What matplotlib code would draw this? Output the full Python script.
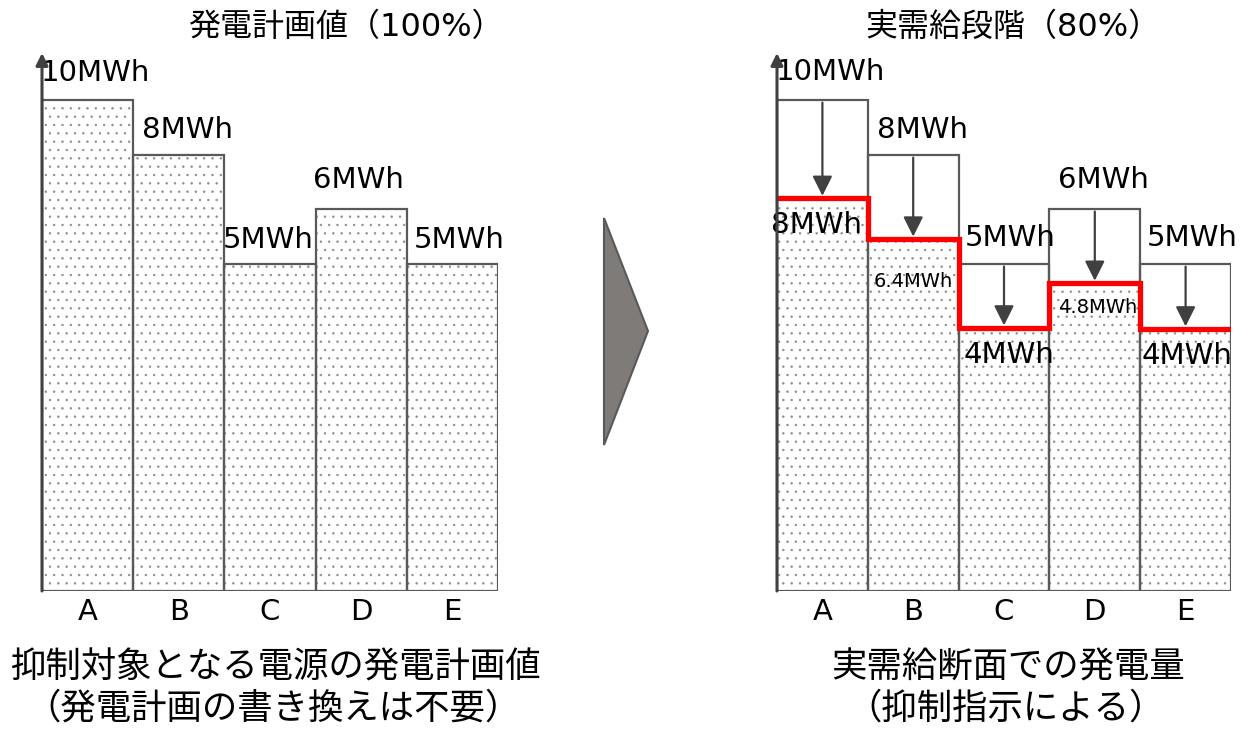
import matplotlib
matplotlib.use("Agg")
import matplotlib.pyplot as plt
import numpy as np
from matplotlib.patches import Polygon

plt.rcParams['font.family'] = ['DejaVu Sans', 'Noto Sans CJK JP']
plt.rcParams['hatch.linewidth'] = 0.5
plt.rcParams['hatch.color'] = '#8c8c8c'

# data ---------------------------------------------------------------
units = ['A', 'B', 'C', 'D', 'E']
plan_labels = ['10MWh', '8MWh', '5MWh', '6MWh', '5MWh']
cut_labels = ['8MWh', '6.4MWh', '4MWh', '4.8MWh', '4MWh']
# bar heights as drawn in the picture (schematic, not to scale)
plan_height = [10.0, 8.88, 6.66, 7.78, 6.66]
cut_height = [8.0, 7.17, 5.36, 6.27, 5.34]

EDGE = '#595959'
AXIS = '#404040'
W, H = 1241, 734
PX = 49.1  # pixels per height unit

fig = plt.figure(figsize=(W / 100, H / 100), dpi=100)


def px_rect(x0, x1, y_top, y_bot):
    return [x0 / W, (H - y_bot) / H, (x1 - x0) / W, (y_bot - y_top) / H]


def base_axes(rect):
    ax = fig.add_axes(rect)
    ax.set_xlim(-0.5, 4.5)
    ax.set_ylim(0, 10.96)
    for s in ax.spines.values():
        s.set_visible(False)
    ax.set_yticks([])
    ax.set_xticks(range(len(units)))
    ax.set_xticklabels(units, fontsize=21)
    ax.tick_params(axis='x', length=0, pad=5)
    ax.annotate('', xy=(0, 1), xytext=(0, 0), xycoords='axes fraction',
                arrowprops=dict(arrowstyle='-|>', color=AXIS, lw=2.2,
                                mutation_scale=18, shrinkA=0, shrinkB=0),
                zorder=10, annotation_clip=False)
    return ax


x = np.arange(len(units))

# left: plan -----------------------------------------------------------
ax1 = base_axes(px_rect(42, 498, 53, 591))
ax1.bar(x, plan_height, width=1, color='white', hatch='..', lw=0)
ax1.bar(x, plan_height, width=1, fill=False, edgecolor=EDGE, lw=1.6)
dx1 = [0.09, 0.1, -0.02, -0.03, 0.07]
dy1 = [27, 25, 24, 29, 24]
for i, (h, lab) in enumerate(zip(plan_height, plan_labels)):
    ax1.text(i + dx1[i], h + dy1[i] / PX, lab, ha='center', va='center',
             fontsize=21)

# right: actual --------------------------------------------------------
ax2 = base_axes(px_rect(777, 1231, 53, 591))
ax2.bar(x, cut_height, width=1, color='white', hatch='..', lw=0)
ax2.bar(x, plan_height, width=1, fill=False, edgecolor=EDGE, lw=1.6)
ax2.stairs(cut_height, edges=np.arange(-0.5, 5.5, 1), baseline=None,
           color='#ff0000', lw=3.8, zorder=5)
for i, (h, c) in enumerate(zip(plan_height, cut_height)):
    ax2.annotate('', xy=(i, c + 0.05), xytext=(i, h - 0.05),
                 arrowprops=dict(arrowstyle='-|>', color=AXIS, lw=1.6,
                                 mutation_scale=30, shrinkA=0, shrinkB=0))
dx2 = [0.09, 0.1, 0.07, 0.1, 0.07]
dy2 = [28, 25, 26, 29, 26]
for i, (h, lab) in enumerate(zip(plan_height, plan_labels)):
    ax2.text(i + dx2[i], h + dy2[i] / PX, lab, ha='center', va='center',
             fontsize=21)
small = [False, True, False, True, False]
dx3 = [-0.06, 0.0, 0.06, 0.03, 0.02]
dy3 = [27, 42, 27, 24, 27]
for i, (c, lab) in enumerate(zip(cut_height, cut_labels)):
    ax2.text(i + dx3[i], c - dy3[i] / PX, lab, ha='center', va='center',
             fontsize=14 if small[i] else 21, zorder=6)

# overlay: triangle and captions ---------------------------------------
ov = fig.add_axes([0, 0, 1, 1], zorder=-1)
ov.set_xlim(0, W)
ov.set_ylim(H, 0)
ov.axis('off')
ov.add_patch(Polygon([[604, 218], [648, 331], [604, 445]], closed=True,
                     facecolor='#7f7b79', edgecolor=EDGE, lw=1.5))

ov.text(346, 27, '発電計画値（100%）', ha='center', va='center', fontsize=23)
ov.text(1013, 27, '実需給段階（80%）', ha='center', va='center', fontsize=23)
ov.text(275, 668, '抑制対象となる電源の発電計画値', ha='center', va='center', fontsize=25.5)
ov.text(273, 709, '（発電計画の書き換えは不要）', ha='center', va='center', fontsize=25.5)
ov.text(1008, 668, '実需給断面での発電量', ha='center', va='center', fontsize=25.5)
ov.text(1006, 709, '（抑制指示による）', ha='center', va='center', fontsize=25.5)

fig.savefig('out.png', dpi=100)
